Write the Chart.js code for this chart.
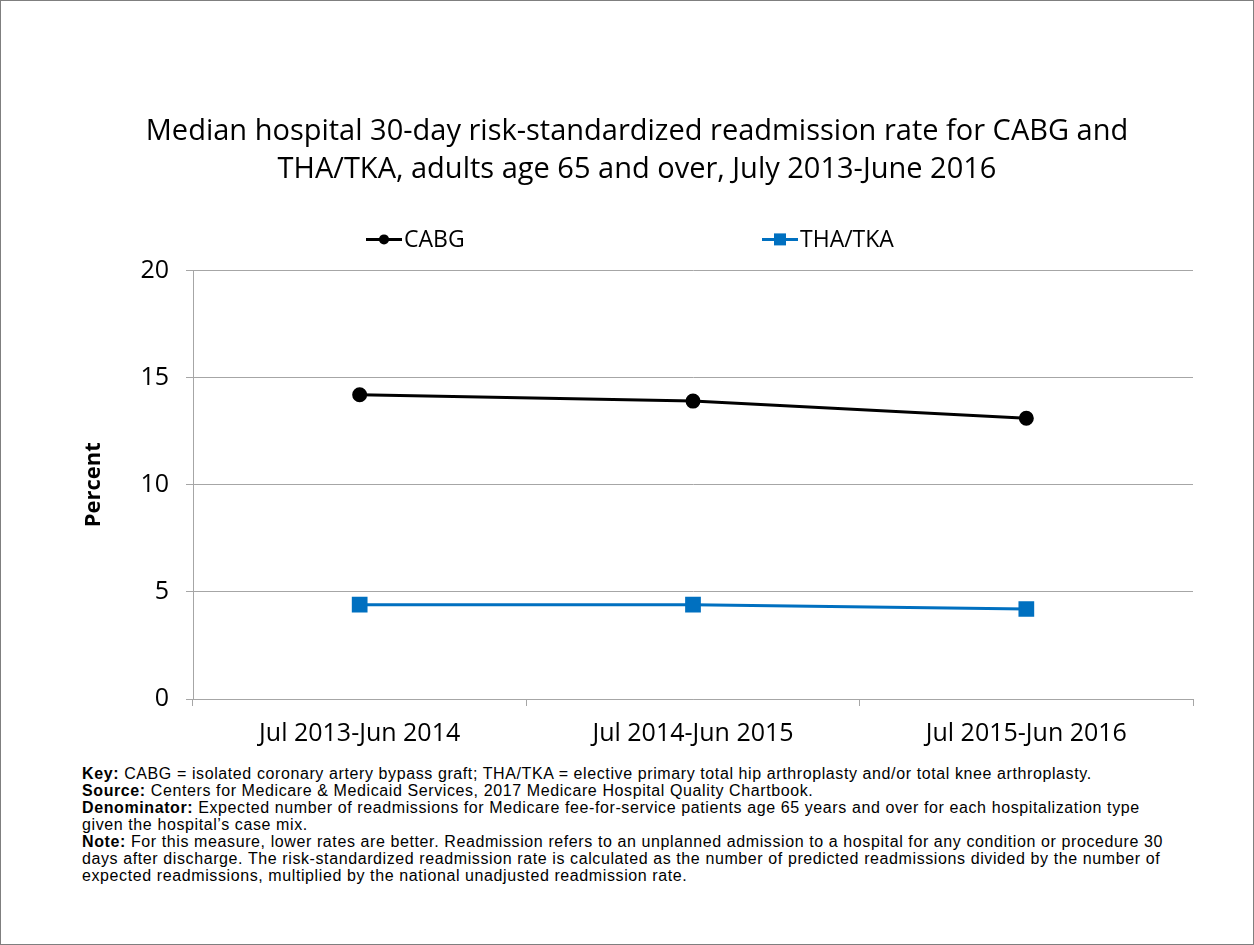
<!DOCTYPE html>
<html>
<head>
<meta charset="utf-8">
<script src="https://cdn.jsdelivr.net/npm/chart.js@4.4.1/dist/chart.umd.min.js"></script>
<style>
  html, body { margin: 0; padding: 0; background: #fff; }
  #frame { position: relative; width: 1252px; height: 943px; border: 1px solid #7f7f7f; overflow: hidden; }
  #box { position: absolute; left: 0; top: 0; width: 1252px; height: 760px; }
  #notes { position: absolute; left: 81px; top: 764px; width: 1150px; white-space: nowrap;
           font-family: 'Liberation Sans', Arial, sans-serif;
           font-size: 16px; letter-spacing: 0.6px; line-height: 17px; color: #000; }
  #notes b { font-weight: bold; }
</style>
</head>
<body>
<div id="frame">
  <div id="box"><canvas id="grafico"></canvas></div>
  <div id="notes">
    <div><b>Key:</b> CABG = isolated coronary artery bypass graft; THA/TKA = elective primary total hip arthroplasty and/or total knee arthroplasty.</div>
    <div><b>Source:</b> Centers for Medicare &amp; Medicaid Services, 2017 Medicare Hospital Quality Chartbook.</div>
    <div><b>Denominator:</b> Expected number of readmissions for Medicare fee-for-service patients age 65 years and over for each hospitalization type<br>given the hospital’s case mix.</div>
    <div><b>Note:</b> For this measure, lower rates are better. Readmission refers to an unplanned admission to a hospital for any condition or procedure 30<br>days after discharge. The risk-standardized readmission rate is calculated as the number of predicted readmissions divided by the number of<br>expected readmissions, multiplied by the national unadjusted readmission rate.</div>
  </div>
</div>
<script>
(function () {
    // dados
    const periodos = ['Jul 2013-Jun 2014', 'Jul 2014-Jun 2015', 'Jul 2015-Jun 2016'];
    const cabg = [14.2, 13.9, 13.1];
    const thaTka = [4.4, 4.4, 4.2];
    const yTicks = [0, 5, 10, 15, 20];

    const paleta = {
        preto: '#000000',
        azul: '#0070C0',
        grade: '#a6a6a6'
    };

    const fonte = "'Open Sans', Lato, sans-serif";

    // legenda própria: linha + marcador, itens bem afastados como no original
    const legendaLarga = {
        id: 'legendaLarga',
        afterDraw(chart) {
            const ctx = chart.ctx;
            const area = chart.chartArea;
            const meio = (area.left + area.right) / 2;
            const y = area.top - 31;
            const posicoes = [meio - 327, meio + 69];
            ctx.save();
            chart.data.datasets.forEach(function (ds, i) {
                const x = posicoes[i];
                ctx.strokeStyle = ds.borderColor;
                ctx.fillStyle = ds.borderColor;
                ctx.lineWidth = 3;
                ctx.beginPath();
                ctx.moveTo(x, y);
                ctx.lineTo(x + 36, y);
                ctx.stroke();
                if (ds.pointStyle === 'circle') {
                    ctx.beginPath();
                    ctx.arc(x + 18, y, 5, 0, Math.PI * 2);
                    ctx.fill();
                } else {
                    ctx.fillRect(x + 12, y - 6, 12, 12);
                }
                ctx.fillStyle = '#000';
                ctx.font = '23px ' + fonte;
                ctx.textBaseline = 'middle';
                ctx.textAlign = 'left';
                ctx.fillText(ds.label, x + 38, y + 1);
            });
            ctx.restore();
        }
    };

    new Chart(document.getElementById('grafico'), {
        type: 'line',
        data: {
            labels: periodos,
            datasets: [{
                label: 'CABG',
                data: cabg,
                borderColor: paleta.preto,
                backgroundColor: paleta.preto,
                borderWidth: 3,
                pointStyle: 'circle',
                pointRadius: 6,
                pointHoverRadius: 6
            }, {
                label: 'THA/TKA',
                data: thaTka,
                borderColor: paleta.azul,
                backgroundColor: paleta.azul,
                borderWidth: 3,
                pointStyle: 'rect',
                pointRadius: 9,
                pointHoverRadius: 9
            }]
        },
        options: {
            responsive: true,
            maintainAspectRatio: false,
            animation: false,
            layout: { padding: { left: 80, right: 60, top: 0, bottom: 0 } },
            plugins: {
                title: {
                    display: true,
                    text: ['Median hospital 30-day risk-standardized readmission rate for CABG and',
                           'THA/TKA, adults age 65 and over, July 2013-June 2016'],
                    color: '#000',
                    font: { family: fonte, size: 29, weight: 'normal', lineHeight: 1.3 },
                    padding: { top: 112, bottom: 82 }
                },
                legend: { display: false },
                tooltip: { enabled: false }
            },
            scales: {
                x: {
                    offset: true,
                    grid: { display: true, offset: true, drawOnChartArea: false, color: paleta.grade, tickLength: 7 },
                    border: { color: paleta.grade, width: 1 },
                    ticks: { color: '#000', font: { family: fonte, size: 25 }, padding: 13, maxRotation: 0 },
                    afterFit: function (s) { s.height = 62; }
                },
                y: {
                    min: 0,
                    max: 20,
                    afterBuildTicks: function (s) { s.ticks = yTicks.map(function (v) { return { value: v }; }); },
                    grid: { color: paleta.grade, tickLength: 7 },
                    border: { color: paleta.grade, width: 1 },
                    ticks: { color: '#000', font: { family: fonte, size: 25 }, padding: 17 },
                    title: {
                        display: true,
                        text: 'Percent',
                        color: '#000',
                        font: { family: fonte, size: 22, weight: 'bold' },
                        padding: { top: 0, bottom: 20 }
                    },
                    afterFit: function (s) { s.width = 112; }
                }
            }
        },
        plugins: [legendaLarga]
    });
})();
</script>
</body>
</html>
